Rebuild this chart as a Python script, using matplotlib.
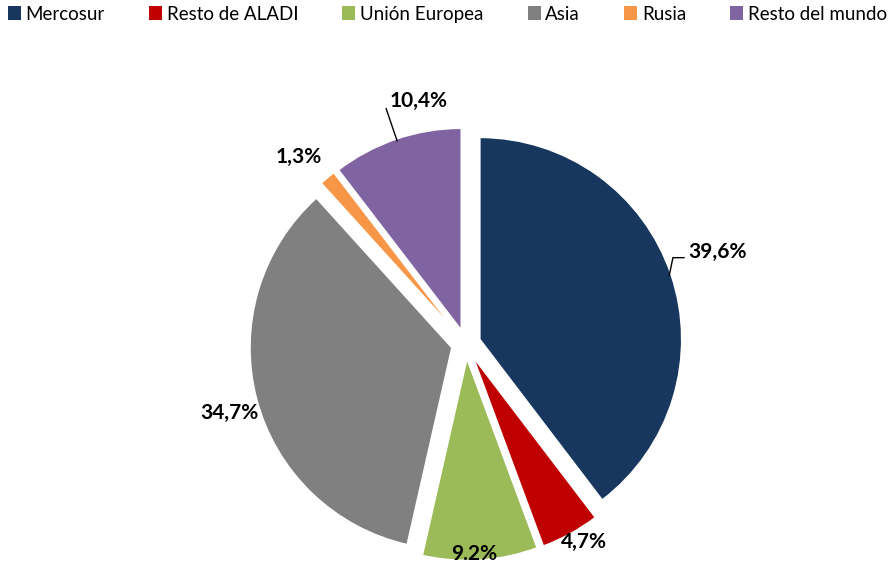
import numpy as np
import matplotlib
matplotlib.use("Agg")
import matplotlib.pyplot as plt
from matplotlib.patches import Patch

# Export shares by destination (%)
regions = ["Mercosur", "Resto de ALADI", "Unión Europea", "Asia", "Rusia", "Resto del mundo"]
shares = [39.6, 4.7, 9.2, 34.7, 1.3, 10.4]
share_labels = ["39,6%", "4,7%", "9.2%", "34,7%", "1,3%", "10,4%"]
colors = ["#17375E", "#C00000", "#9BBB59", "#808080", "#F79646", "#8064A2"]

plt.rcParams['font.family'] = ['Lato', 'DejaVu Sans']

W, H = 888, 567
R = 202.0           # pie radius in pixels
cx, cy = 466, 344   # pie centre in pixels (from top-left)

fig = plt.figure(figsize=(W / 100, H / 100), dpi=100)
ax = fig.add_axes([0, 0, 1, 1])

expl = 0.072
wedges, _ = ax.pie(shares, colors=colors, startangle=90, counterclock=False,
                   explode=[expl] * len(shares), radius=1.0, center=(0, 0),
                   wedgeprops=dict(edgecolor="white", linewidth=1.2))

# pie() resets the limits, so set them afterwards (1 unit = R pixels)
ax.set_xlim(-cx / R, (W - cx) / R)
ax.set_ylim(-(H - cy) / R, cy / R)
ax.set_aspect("equal")
ax.axis("off")

# label placement: radial distance and angle shift per slice
label_dist = [1.33, 1.14, 1.04, 1.22, 1.24, 1.23]
label_shift = [1.0, 2.0, -1.5, 1.5, 2.0, 0.0]
lab_fs = 15

def unit(a):
    return np.array([np.cos(np.radians(a)), np.sin(np.radians(a))])

for i, w in enumerate(wedges):
    mid = (w.theta1 + w.theta2) / 2
    wc = np.array(w.center)
    if i == 0:
        p0 = wc + unit(mid) * 0.99
        p1 = unit(mid + 4) * 1.11
        p2 = p1 + np.array([0.055, 0])
        ax.plot([p0[0], p1[0], p2[0]], [p0[1], p1[1], p2[1]], color="black", lw=1)
        ax.text(p2[0] + 0.02, p2[1] + 0.03, share_labels[i], ha="left", va="center",
                fontsize=lab_fs, fontweight="bold")
    elif i == 5:
        p0 = wc + unit(mid) * 0.99
        p1 = unit(mid) * label_dist[i]
        ax.plot([p0[0], p1[0]], [p0[1], p1[1]], color="black", lw=1)
        ax.text(p1[0] + 0.015, p1[1] - 0.01, share_labels[i], ha="left", va="bottom",
                fontsize=lab_fs, fontweight="bold")
    else:
        p = unit(mid + label_shift[i]) * label_dist[i]
        ax.text(p[0], p[1], share_labels[i], ha="center", va="center",
                fontsize=lab_fs, fontweight="bold")

handles = [Patch(facecolor=c, edgecolor="none") for c in colors]
fig.legend(handles, regions, loc="upper left", bbox_to_anchor=(-0.004, 1.01), ncol=6,
           frameon=False, fontsize=13.5, handlelength=0.7, handleheight=0.7,
           handletextpad=0.25, columnspacing=2.35, borderaxespad=0.2)

fig.savefig("out.png", dpi=100)
